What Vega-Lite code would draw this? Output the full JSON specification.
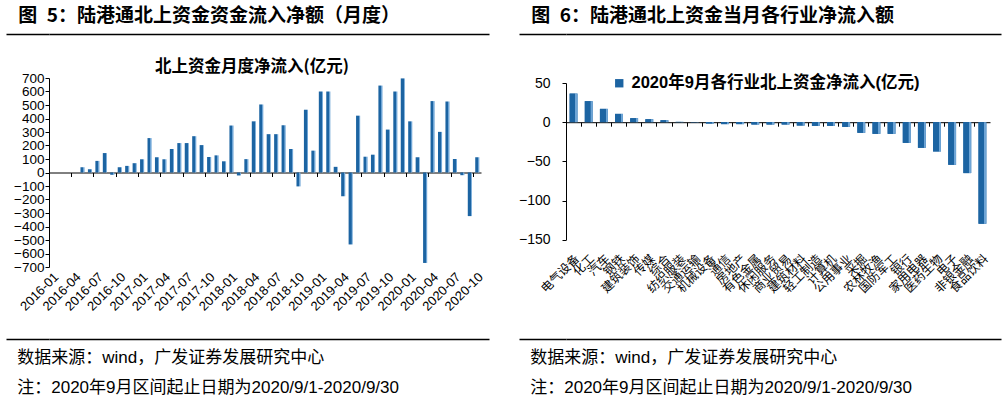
{
  "$schema": "https://vega.github.io/schema/vega-lite/v6.json",
  "padding": {"left": 5, "top": 7, "right": 5, "bottom": 0},
  "background": "white",
  "config": {
    "view": {"stroke": null},
    "font": "Liberation Sans",
    "axis": {"domainColor": "black", "tickColor": "black", "labelColor": "black", "grid": false, "title": null},
    "title": {"color": "black"}
  },
  "spacing": 26,
  "resolve": {"scale": {"color": "independent"}, "legend": {"color": "independent"}},
  "hconcat": [
    {
      "spacing": 21,
      "resolve": {"scale": {"color": "independent"}, "legend": {"color": "independent"}},
      "vconcat": [
        {
          "width": 440, "height": 1,
          "title": {"text": "图\u20025：陆港通北上资金资金流入净额（月度）", "anchor": "start", "frame": "bounds", "dx": 13, "font": "Noto Sans CJK SC", "fontSize": 19, "fontWeight": "bold", "offset": 4, "color": "black"},
          "data": {"values": [{"v": 0}, {"v": 1}]},
          "mark": {"type": "point", "opacity": 0},
          "encoding": {
            "x": {"field": "v", "type": "quantitative", "axis": {"orient": "bottom", "domain": true, "domainColor": "black", "domainWidth": 1.5, "ticks": false, "labels": false, "title": null, "grid": false}},
            "y": {"field": "v", "type": "quantitative", "scale": {"domain": [0, 1]}, "axis": {"orient": "left", "domain": false, "labels": false, "ticks": true, "values": [0], "tickSize": 43, "tickWidth": 1.5, "tickColor": "black", "minExtent": 43, "maxExtent": 43, "grid": false, "title": null}}
          }
        },
        {
          "width": 432, "height": 189,
          "title": {"text": "北上资金月度净流入(亿元)", "font": "Noto Sans CJK SC", "fontSize": 16.5, "fontWeight": "bold", "offset": -4, "dx": -13, "anchor": "middle", "frame": "group", "color": "black"},
          "data": {"values": [
            {"month": "2016-01", "value": 0}, {"month": "2016-02", "value": 0}, {"month": "2016-03", "value": 0}, {"month": "2016-04", "value": 0},
            {"month": "2016-05", "value": 39}, {"month": "2016-06", "value": 24}, {"month": "2016-07", "value": 86}, {"month": "2016-08", "value": 144},
            {"month": "2016-09", "value": -17}, {"month": "2016-10", "value": 39}, {"month": "2016-11", "value": 49}, {"month": "2016-12", "value": 69},
            {"month": "2017-01", "value": 98}, {"month": "2017-02", "value": 255}, {"month": "2017-03", "value": 113}, {"month": "2017-04", "value": 98},
            {"month": "2017-05", "value": 174}, {"month": "2017-06", "value": 218}, {"month": "2017-07", "value": 218}, {"month": "2017-08", "value": 269},
            {"month": "2017-09", "value": 203}, {"month": "2017-10", "value": 115}, {"month": "2017-11", "value": 127}, {"month": "2017-12", "value": 83},
            {"month": "2018-01", "value": 348}, {"month": "2018-02", "value": -22}, {"month": "2018-03", "value": 99}, {"month": "2018-04", "value": 379},
            {"month": "2018-05", "value": 504}, {"month": "2018-06", "value": 284}, {"month": "2018-07", "value": 284}, {"month": "2018-08", "value": 350},
            {"month": "2018-09", "value": 174}, {"month": "2018-10", "value": -103}, {"month": "2018-11", "value": 465}, {"month": "2018-12", "value": 162},
            {"month": "2019-01", "value": 600}, {"month": "2019-02", "value": 600}, {"month": "2019-03", "value": 42}, {"month": "2019-04", "value": -176},
            {"month": "2019-05", "value": -533}, {"month": "2019-06", "value": 421}, {"month": "2019-07", "value": 117}, {"month": "2019-08", "value": 132},
            {"month": "2019-09", "value": 644}, {"month": "2019-10", "value": 318}, {"month": "2019-11", "value": 600}, {"month": "2019-12", "value": 697},
            {"month": "2020-01", "value": 379}, {"month": "2020-02", "value": 113}, {"month": "2020-03", "value": -670}, {"month": "2020-04", "value": 529},
            {"month": "2020-05", "value": 301}, {"month": "2020-06", "value": 526}, {"month": "2020-07", "value": 100}, {"month": "2020-08", "value": -20},
            {"month": "2020-09", "value": -323}, {"month": "2020-10", "value": 113}
          ]},
          "mark": {"type": "bar", "width": {"band": 0.55}, "color": {"gradient": "linear", "x1": 0, "y1": 0, "x2": 1, "y2": 0, "stops": [{"offset": 0, "color": "#1c64a2"}, {"offset": 0.7, "color": "#1c64a2"}, {"offset": 0.72, "color": "#6ea5d6"}, {"offset": 1, "color": "#6ea5d6"}]}},
          "encoding": {
            "x": {"field": "month", "type": "nominal", "sort": null, "scale": {"paddingInner": 0, "paddingOuter": 0},
              "axis": {"orient": "bottom", "offset": -94.5, "bandPosition": 0,
                "values": ["2016-01","2016-04","2016-07","2016-10","2017-01","2017-04","2017-07","2017-10","2018-01","2018-04","2018-07","2018-10","2019-01","2019-04","2019-07","2019-10","2020-01","2020-04","2020-07","2020-10"],
                "tickSize": 4, "labelAngle": -45, "labelAlign": "right", "labelBaseline": "middle", "labelOffset": 3.72, "labelPadding": 98,
                "labelFont": "Liberation Sans", "labelFontSize": 13, "labelOverlap": false, "title": null}},
            "y": {"field": "value", "type": "quantitative", "scale": {"domain": [-700, 700], "nice": false},
              "axis": {"values": [-700,-600,-500,-400,-300,-200,-100,0,100,200,300,400,500,600,700], "tickSize": 4, "labelPadding": 1, "labelFont": "Liberation Sans", "labelFontSize": 13.5, "labelOverlap": false, "labelBound": false, "minExtent": 43, "maxExtent": 43, "title": null}}
          }
        },
        {
          "width": 440, "height": 1,
          "title": {"text": "数据来源：wind，广发证券发展研究中心", "subtitle": "注：2020年9月区间起止日期为2020/9/1-2020/9/30", "orient": "bottom", "anchor": "start", "frame": "bounds", "dx": 12, "offset": 8,
            "font": "Liberation Sans, Noto Sans CJK SC", "fontSize": 17, "fontWeight": "normal", "color": "black",
            "subtitleFont": "Liberation Sans, Noto Sans CJK SC", "subtitleFontSize": 17, "subtitleColor": "black", "subtitlePadding": 13},
          "data": {"values": [{"v": 0}, {"v": 1}]},
          "mark": {"type": "point", "opacity": 0},
          "encoding": {
            "x": {"field": "v", "type": "quantitative", "axis": {"orient": "bottom", "domain": true, "domainColor": "black", "domainWidth": 1.5, "ticks": false, "labels": false, "title": null, "grid": false}},
            "y": {"field": "v", "type": "quantitative", "scale": {"domain": [0, 1]}, "axis": {"orient": "left", "domain": false, "labels": false, "ticks": true, "values": [0], "tickSize": 43, "tickWidth": 1.5, "tickColor": "black", "minExtent": 43, "maxExtent": 43, "grid": false, "title": null}}
          }
        }
      ]
    },
    {
      "spacing": 38,
      "resolve": {"scale": {"color": "independent"}, "legend": {"color": "independent"}},
      "vconcat": [
        {
          "width": 435, "height": 1,
          "title": {"text": "图\u20026：陆港通北上资金当月各行业净流入额", "anchor": "start", "frame": "bounds", "dx": 13, "font": "Noto Sans CJK SC", "fontSize": 19, "fontWeight": "bold", "offset": 4, "color": "black"},
          "data": {"values": [{"v": 0}, {"v": 1}]},
          "mark": {"type": "point", "opacity": 0},
          "encoding": {
            "x": {"field": "v", "type": "quantitative", "axis": {"orient": "bottom", "domain": true, "domainColor": "black", "domainWidth": 1.5, "ticks": false, "labels": false, "title": null, "grid": false}},
            "y": {"field": "v", "type": "quantitative", "scale": {"domain": [0, 1]}, "axis": {"orient": "left", "domain": false, "labels": false, "ticks": true, "values": [0], "tickSize": 47, "tickWidth": 1.5, "tickColor": "black", "minExtent": 47, "maxExtent": 47, "grid": false, "title": null}}
          }
        },
        {
          "width": 424, "height": 156.7,
          "data": {"values": [
            {"industry": "电气设备", "value": 36.5}, {"industry": "化工", "value": 26.8}, {"industry": "汽车", "value": 17}, {"industry": "钢铁", "value": 10.6},
            {"industry": "建筑装饰", "value": 5.1}, {"industry": "传媒", "value": 3.8}, {"industry": "综合", "value": 2.5}, {"industry": "纺织服装", "value": 0.4},
            {"industry": "交通运输", "value": -0.3}, {"industry": "机械设备", "value": -1.7}, {"industry": "通信", "value": -2.5}, {"industry": "房地产", "value": -2.5},
            {"industry": "有色金属", "value": -3}, {"industry": "休闲服务", "value": -3}, {"industry": "商业贸易", "value": -3}, {"industry": "建筑材料", "value": -4.3},
            {"industry": "轻工制造", "value": -4.7}, {"industry": "计算机", "value": -4.7}, {"industry": "公用事业", "value": -6}, {"industry": "采掘", "value": -13.6},
            {"industry": "农林牧渔", "value": -14.9}, {"industry": "国防军工", "value": -14.9}, {"industry": "银行", "value": -26.4}, {"industry": "家用电器", "value": -32.7},
            {"industry": "医药生物", "value": -37.4}, {"industry": "电子", "value": -54.4}, {"industry": "非银金融", "value": -65}, {"industry": "食品饮料", "value": -129.7}
          ]},
          "encoding": {
            "x": {"field": "industry", "type": "nominal", "sort": null, "scale": {"paddingInner": 0, "paddingOuter": 0},
              "axis": {"orient": "bottom", "offset": -117.5, "bandPosition": 0, "tickSize": 4, "labelAngle": -45, "labelAlign": "right", "labelBaseline": "middle",
                "labelOffset": 3.5, "labelPadding": 130, "labelFont": "Noto Sans CJK SC", "labelFontSize": 12, "labelOverlap": false, "labelBound": false, "title": null}},
            "y": {"field": "value", "type": "quantitative", "scale": {"domain": [-150, 50], "nice": false},
              "axis": {"values": [-150, -100, -50, 0, 50], "tickSize": 4, "labelPadding": 12, "labelFont": "Liberation Sans", "labelFontSize": 14, "labelOverlap": false, "minExtent": 47, "maxExtent": 47, "title": null}}
          },
          "layer": [
            {
              "mark": {"type": "bar", "width": {"band": 0.52}},
              "encoding": {
                "color": {"datum": "2020年9月各行业北上资金净流入(亿元)", "type": "nominal", "scale": {"range": ["#1c64a2"]},
                  "legend": {"orient": "none", "legendX": 45, "legendY": -8, "title": null, "symbolType": "square", "symbolSize": 70, "symbolStrokeWidth": 0,
                    "labelFont": "Liberation Sans, Noto Sans CJK SC", "labelFontSize": 16.5, "labelFontWeight": "bold", "labelColor": "black", "labelOffset": 4, "padding": 0, "labelLimit": 400}}
              }
            },
            {
              "mark": {"type": "bar", "width": {"band": 0.52}, "color": {"gradient": "linear", "x1": 0, "y1": 0, "x2": 1, "y2": 0, "stops": [{"offset": 0, "color": "#1c64a2"}, {"offset": 0.72, "color": "#1c64a2"}, {"offset": 0.74, "color": "#6ea5d6"}, {"offset": 1, "color": "#6ea5d6"}]}}
            }
          ]
        },
        {
          "width": 435, "height": 3,
          "title": {"text": "数据来源：wind，广发证券发展研究中心", "subtitle": "注：2020年9月区间起止日期为2020/9/1-2020/9/30", "orient": "bottom", "anchor": "start", "frame": "bounds", "dx": 12, "offset": 8,
            "font": "Liberation Sans, Noto Sans CJK SC", "fontSize": 17, "fontWeight": "normal", "color": "black",
            "subtitleFont": "Liberation Sans, Noto Sans CJK SC", "subtitleFontSize": 17, "subtitleColor": "black", "subtitlePadding": 13},
          "data": {"values": [{"v": 0}, {"v": 1}]},
          "mark": {"type": "point", "opacity": 0},
          "encoding": {
            "x": {"field": "v", "type": "quantitative", "axis": {"orient": "bottom", "domain": true, "domainColor": "black", "domainWidth": 1.5, "ticks": false, "labels": false, "title": null, "grid": false}},
            "y": {"field": "v", "type": "quantitative", "scale": {"domain": [0, 1]}, "axis": {"orient": "left", "domain": false, "labels": false, "ticks": true, "values": [0], "tickSize": 47, "tickWidth": 1.5, "tickColor": "black", "minExtent": 47, "maxExtent": 47, "grid": false, "title": null}}
          }
        }
      ]
    }
  ]
}
